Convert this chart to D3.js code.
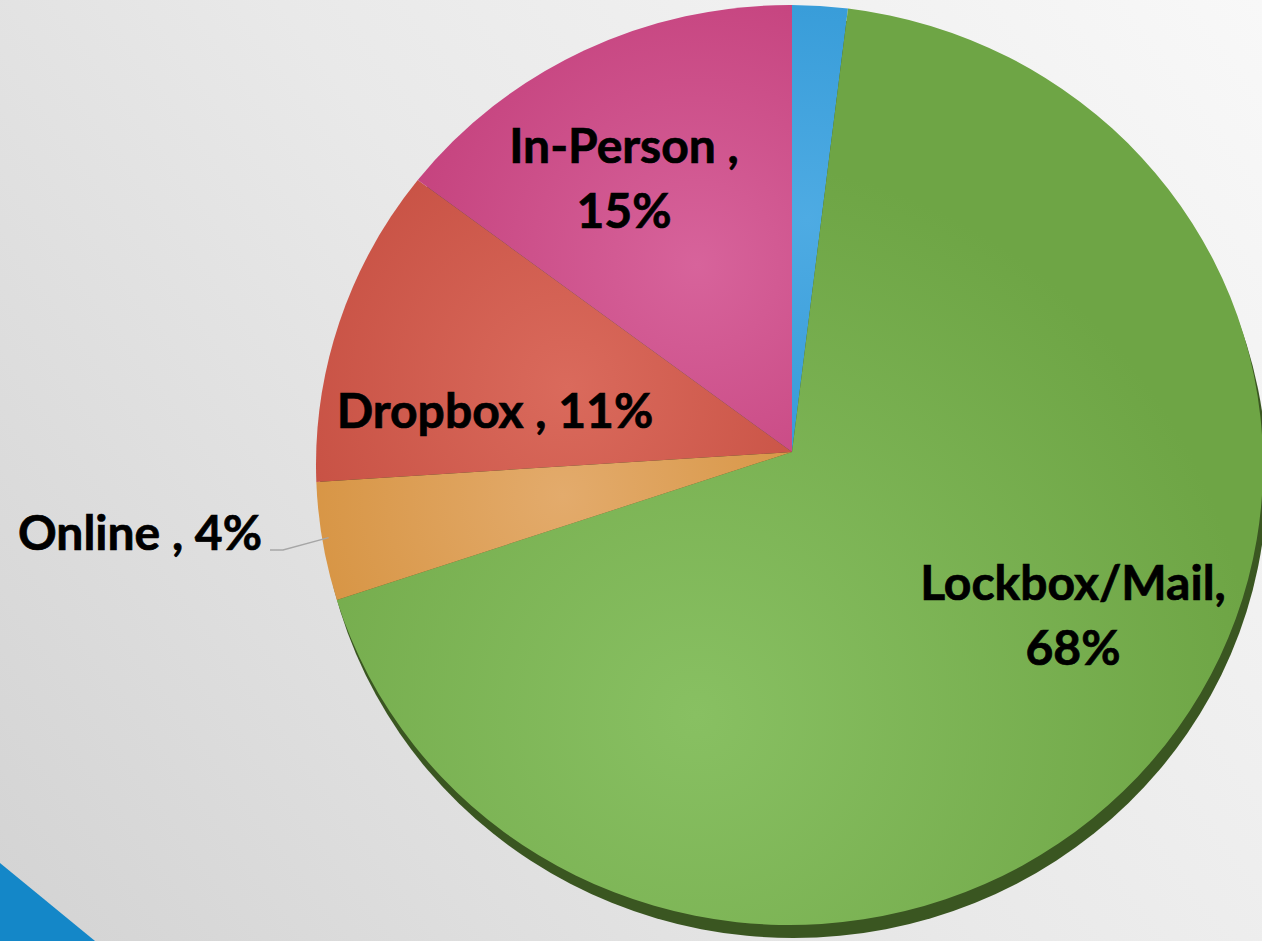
<!DOCTYPE html>
<html>
<head>
<meta charset="utf-8">
<script src="https://cdn.jsdelivr.net/npm/d3@7"></script>
<style>
  html, body { margin: 0; padding: 0; overflow: hidden; background: #e4e4e4; }
  text { font-family: "Lato", "Open Sans", sans-serif; font-weight: 700; fill: #000;
         stroke: #000; stroke-width: 0.7px; }
</style>
</head>
<body>
<svg id="chart" width="1262" height="941"></svg>
<script>
// Payment channel shares (percent), in clockwise order from 12 o'clock
const categories = ["Other", "Lockbox/Mail", "Online", "Dropbox", "In-Person"];
const shares = [2, 68, 4, 11, 15];
const labelNames = ["", "Lockbox/Mail,", "Online ,", "Dropbox ,", "In-Person ,"];
const showLabel = [false, true, true, true, true];

// Fill colours per slice: [edge tone, inner highlight]
const sliceColors = [
  ["#2b94d3", "#4eabe3"],
  ["#6ea545", "#88c062"],
  ["#d38d36", "#e3ab6c"],
  ["#c34b3e", "#da6a5c"],
  ["#c23d79", "#d7639b"]
];

// Shading highlight: angle (deg, null = slice middle), distance and spread as fractions of the radius
const shade = [
  { angle: null, dist: 0.5, spread: 0.75 },
  { angle: 200,  dist: 0.6, spread: 1.2 },
  { angle: null, dist: 0.5, spread: 0.75 },
  { angle: null, dist: 0.5, spread: 0.75 },
  { angle: null, dist: 0.45, spread: 0.75 }
];

// Label layout: anchor position, line break and text anchor
const labelLayout = {
  "Lockbox/Mail": { x: 1073, y: 600, split: true, anchor: "middle" },
  "Online":       { x: 262,  y: 550, split: false, anchor: "end", leader: true },
  "Dropbox":      { x: 495,  y: 428, split: false, anchor: "middle" },
  "In-Person":    { x: 624,  y: 163, split: true, anchor: "middle" }
};

const W = 1262, H = 941;
const svg = d3.select("#chart");
const defs = svg.append("defs");

// Background wash: light at the top right, greyer towards the bottom left
const bg = defs.append("linearGradient").attr("id", "bg")
  .attr("gradientUnits", "userSpaceOnUse")
  .attr("x1", W).attr("y1", 0).attr("x2", 0).attr("y2", H);
bg.append("stop").attr("offset", 0).attr("stop-color", "#f8f8f8");
bg.append("stop").attr("offset", 0.5).attr("stop-color", "#e9e9e9");
bg.append("stop").attr("offset", 1).attr("stop-color", "#d3d3d3");
svg.append("rect").attr("width", W).attr("height", H).attr("fill", "url(#bg)");

// Corner accent
svg.append("path")
  .attr("d", `M0,${H - 78} L95,${H} L0,${H} Z`)
  .attr("fill", "#1487c8");

// Pie outline (slightly tilted disc) and the point where slices meet
const ell = { cx: 789.5, cy: 465, rx: 473.5, ry: 460 };
const apex = { x: 792, y: 452 };

const pie = d3.pie().sort(null).value(d => d.value);
const arcs = pie(categories.map((c, i) => ({ name: c, value: shares[i], i })));

// Where a ray from the apex at angle a (clockwise from 12 o'clock) meets the rim
function rim(a) {
  const dx = Math.sin(a), dy = -Math.cos(a);
  const px = apex.x - ell.cx, py = apex.y - ell.cy;
  const A = dx * dx / (ell.rx * ell.rx) + dy * dy / (ell.ry * ell.ry);
  const B = 2 * (px * dx / (ell.rx * ell.rx) + py * dy / (ell.ry * ell.ry));
  const C = px * px / (ell.rx * ell.rx) + py * py / (ell.ry * ell.ry) - 1;
  const t = (-B + Math.sqrt(B * B - 4 * A * C)) / (2 * A);
  return { x: apex.x + t * dx, y: apex.y + t * dy };
}
function param(p) {
  return Math.atan2((p.y - ell.cy) / ell.ry, (p.x - ell.cx) / ell.rx);
}
function slicePath(d) {
  const p0 = rim(d.startAngle), p1 = rim(d.endAngle);
  let span = param(p1) - param(p0);
  while (span < 0) span += 2 * Math.PI;
  const large = span > Math.PI ? 1 : 0;
  return `M${apex.x},${apex.y} L${p0.x},${p0.y} A${ell.rx},${ell.ry} 0 ${large} 1 ${p1.x},${p1.y} Z`;
}

// Per-slice radial shading
const rMean = (ell.rx + ell.ry) / 2;
arcs.forEach((d, i) => {
  const s = shade[i];
  const a = s.angle == null ? (d.startAngle + d.endAngle) / 2 : s.angle * Math.PI / 180;
  const f = s.dist * rMean;
  const g = defs.append("radialGradient").attr("id", "sl" + i)
    .attr("gradientUnits", "userSpaceOnUse")
    .attr("cx", apex.x + Math.sin(a) * f)
    .attr("cy", apex.y - Math.cos(a) * f)
    .attr("r", rMean * s.spread);
  g.append("stop").attr("offset", 0).attr("stop-color", sliceColors[i][1]);
  g.append("stop").attr("offset", 1).attr("stop-color", sliceColors[i][0]);
});

// Side wall visible below the disc
svg.append("ellipse")
  .attr("cx", ell.cx + 4).attr("cy", ell.cy + 13)
  .attr("rx", ell.rx).attr("ry", ell.ry)
  .attr("fill", "#3a5621");

svg.append("g").selectAll("path")
  .data(arcs)
  .join("path")
  .attr("d", slicePath)
  .attr("fill", (d, i) => `url(#sl${i})`);

// Data labels
const labels = svg.append("g");
arcs.forEach((d, i) => {
  if (!showLabel[i]) return;
  const L = labelLayout[d.data.name];
  const pct = `${d.data.value}%`;
  const t = labels.append("text")
    .attr("x", L.x).attr("y", L.y)
    .attr("text-anchor", L.anchor)
    .style("font-size", "48px");
  if (L.split) {
    t.append("tspan").attr("x", L.x).text(labelNames[i]);
    t.append("tspan").attr("x", L.x).attr("dy", 65).text(pct);
  } else {
    t.text(`${labelNames[i]} ${pct}`);
  }
  if (L.leader) {
    const mid = (d.startAngle + d.endAngle) / 2;
    const end = rim(mid);
    labels.append("path")
      .attr("d", `M${L.x + 8},${L.y} L${L.x + 21},${L.y} L${end.x + 6},${end.y - 4}`)
      .attr("fill", "none")
      .attr("stroke", "#a6a6a6")
      .attr("stroke-width", 1.3);
  }
});
</script>
</body>
</html>
